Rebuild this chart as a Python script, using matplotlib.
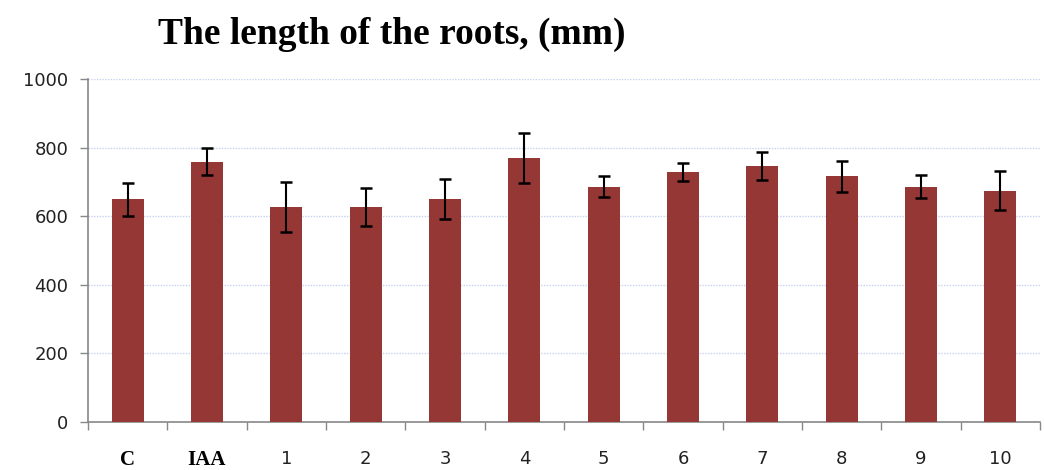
import numpy as np
import matplotlib.pyplot as plt

# Root length per treatment
labels = ["C", "IAA", "1", "2", "3", "4", "5", "6", "7", "8", "9", "10"]
length = [650, 759, 627, 627, 650, 771, 686, 729, 746, 716, 686, 674]
err = [48, 40, 72, 55, 57, 73, 30, 25, 40, 45, 33, 57]

fig = plt.figure(figsize=(10.44, 4.7), dpi=100)
ax = fig.add_axes([88 / 1044, 1 - 422 / 470, (1040 - 88) / 1044, (422 - 79) / 470])

x = np.arange(len(labels))
ax.bar(x, length, width=0.4, color="#953735", zorder=3)
ax.errorbar(x, length, yerr=err, fmt="none", ecolor="black",
            elinewidth=1.5, capsize=4.5, capthick=1.8, zorder=4)

ax.set_ylim(0, 1000)
ax.set_xlim(-0.5, len(labels) - 0.5)
ax.set_yticks(range(0, 1001, 200))
ax.tick_params(axis="y", labelsize=13, colors="#333333", length=6,
               width=1, pad=8)
for t in ax.get_yticklabels():
    t.set_color("#222222")
ax.yaxis.grid(True, linestyle=(0, (1, 1)), color="#c4d2ee", linewidth=1, zorder=0)

# category separators as ticks, labels centred under bars
ax.set_xticks(x)
ax.set_xticklabels(labels)
ax.tick_params(axis="x", length=0, pad=20, labelsize=13)
ax.set_xticks(np.arange(-0.5, len(labels), 1), minor=True)
ax.tick_params(axis="x", which="minor", length=6, width=1, color="#888888")
for t in ax.get_xticklabels():
    t.set_color("#222222")
    if t.get_text() in ("C", "IAA"):
        t.set_fontfamily("Liberation Serif")
        t.set_fontweight("bold")
        t.set_fontsize(15)
        t.set_color("black")

for s in ["top", "right"]:
    ax.spines[s].set_visible(False)
for s in ["left", "bottom"]:
    ax.spines[s].set_color("#888888")
    ax.spines[s].set_linewidth(1.2)
ax.tick_params(axis="y", color="#888888")

fig.text(392 / 1044, 1 - 34 / 470, "The length of the roots, (mm)",
         ha="center", va="center", fontfamily="Liberation Serif",
         fontweight="bold", fontsize=27)

fig.savefig("out.png", dpi=100)
